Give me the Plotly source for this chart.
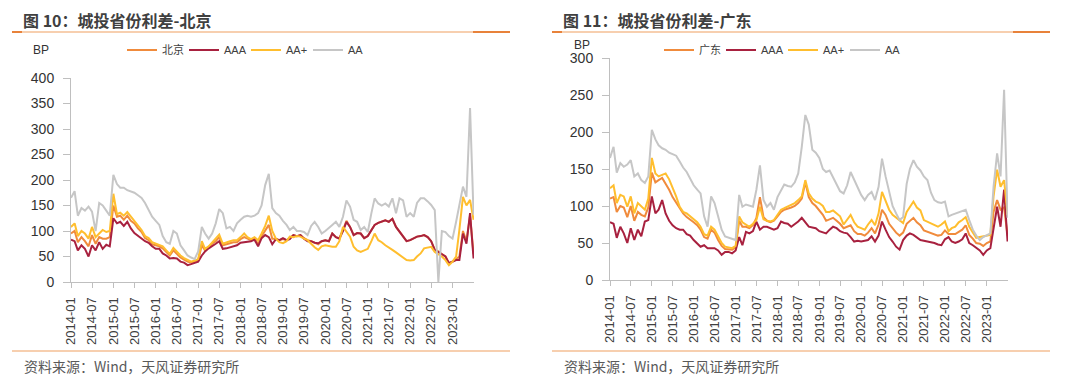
import pandas as pd
import plotly.graph_objects as go

# ---------------- data (monthly, 2014-01 .. 2023-07) ----------------
dates = pd.date_range("2014-01-01", periods=115, freq="MS")
tick_dates = pd.date_range("2014-01-01", "2023-01-01", freq="6MS")

bj_city = [95, 100, 78, 88, 80, 70, 92, 75, 88, 85,
           85, 88, 150, 128, 130, 122, 130, 120, 115, 105,
           98, 86, 82, 74, 72, 70, 66, 58, 52, 62,
           56, 48, 44, 40, 38, 40, 43, 72, 62, 68,
           75, 80, 88, 72, 74, 76, 78, 78, 84, 88,
           85, 82, 86, 74, 90, 102, 112, 85, 85, 82,
           84, 82, 86, 92, 90, 92, 86, 82, 80, 77,
           74, 80, 82, 80, 95, 88, 86, 102, 120, 108,
           92, 96, 95, 86, 90, 102, 112, 116, 118, 121,
           118, 124, 108, 98, 89, 80, 82, 85, 89, 90,
           92, 88, 80, 63, 60, 55, 50, 37, 40, 45,
           50, 100, 80, 130, 55]
bj_aaa = [83, 80, 62, 72, 65, 50, 72, 62, 78, 65,
          73, 70, 125, 115, 118, 110, 118, 105, 96, 90,
          85, 80, 77, 70, 65, 65, 56, 52, 46, 47,
          46, 40, 38, 33, 35, 37, 40, 52, 60, 66,
          70, 75, 80, 65, 66, 68, 70, 72, 77, 78,
          80, 80, 83, 70, 86, 92, 88, 74, 84, 82,
          86, 82, 84, 92, 90, 92, 85, 80, 80, 77,
          76, 80, 82, 80, 95, 88, 85, 100, 118, 108,
          92, 96, 95, 86, 90, 102, 112, 116, 118, 121,
          118, 124, 108, 98, 89, 80, 82, 85, 89, 90,
          92, 88, 80, 63, 59, 55, 50, 37, 40, 43,
          43, 95, 75, 135, 46]
bj_aap = [108, 115, 90, 100, 95, 85, 108, 88, 95, 102,
          98, 100, 173, 133, 136, 130, 137, 128, 120, 110,
          102, 90, 86, 78, 75, 72, 70, 62, 55, 67,
          60, 52, 47, 43, 40, 42, 45, 80, 65, 70,
          78, 85, 93, 75, 78, 80, 82, 82, 88, 95,
          88, 84, 88, 82, 95, 110, 130, 100, 85, 78,
          76, 80, 89, 88, 90, 89, 85, 82, 75, 68,
          63, 70, 72, 70, 69, 69, 80, 108, 98, 89,
          69, 62, 59, 62, 65, 80, 95, 82, 78, 72,
          68, 63, 58, 53, 48, 43, 42, 43, 50, 56,
          66, 68, 69, 59, 55, 50, 43, 33, 40, 50,
          102, 167, 150, 161, 122]
bj_aa = [165, 178, 130, 145, 140, 148, 138, 100, 155, 150,
         140, 130, 210, 192, 185, 185, 180, 178, 175, 170,
         165, 155, 140, 128, 120, 112, 90, 78, 75, 100,
         95, 72, 62, 52, 48, 45, 60, 108, 95, 85,
         95, 115, 143, 135, 105, 108, 100, 115, 122, 128,
         130, 128, 130, 135, 150, 190, 212, 145, 135, 130,
         120, 112, 102, 108, 100, 100, 98, 92, 110, 118,
         108, 95, 100, 107, 112, 118, 108, 128, 160, 148,
         122, 118, 102, 108, 98, 135, 164, 154, 150, 154,
         148, 164, 135, 164, 160, 128, 135, 128, 155, 164,
         164, 158, 151, 141, 0, 100, 98, 90, 85, 118,
         154, 187, 167, 341, 132]

gd_city = [110, 112, 92, 100, 98, 85, 100, 80, 92, 88,
           86, 98, 145, 132, 135, 138, 130, 122, 112, 104,
           96, 90, 85, 82, 78, 74, 68, 58, 56, 68,
           64, 54, 46, 42, 42, 41, 44, 80, 72, 72,
           70, 74, 84, 112, 85, 80, 78, 80, 86, 92,
           95, 96, 98, 100, 104, 110, 132, 112, 104, 100,
           94, 88, 80, 82, 84, 80, 76, 70, 72, 74,
           66, 62, 62, 60, 64, 70, 63, 75, 95, 88,
           76, 70, 64, 60, 64, 76, 80, 84, 78, 74,
           67, 65, 64, 62, 60, 61, 67, 62, 62, 62,
           65, 68, 74, 61, 56, 50, 49, 46, 50, 52,
           92, 108, 95, 98, 60]
gd_aaa = [78, 76, 57, 72, 63, 50, 70, 54, 68, 59,
          79, 81, 113, 90, 95, 108, 90, 80, 74, 70,
          68, 68, 62, 60, 54, 50, 45, 47, 43, 43,
          43, 40, 34, 38, 38, 36, 40, 58, 47, 65,
          63, 66, 79, 68, 72, 72, 70, 68, 70, 79,
          77, 76, 72, 75, 79, 84, 78, 72, 71, 70,
          66, 64, 63, 68, 72, 70, 66, 64, 63, 58,
          52, 53, 52, 53, 54, 59, 52, 60, 79, 68,
          58, 52, 45, 41, 54, 60, 63, 61, 58, 54,
          53, 52, 52, 50, 48, 47, 55, 58, 52, 50,
          52, 55, 63, 50, 47, 43, 40, 34, 40, 43,
          72, 99, 72, 122, 52]
gd_aap = [124, 128, 104, 115, 113, 99, 113, 90, 104, 99,
          95, 110, 165, 144, 140, 142, 144, 136, 125, 113,
          99, 92, 90, 86, 83, 78, 72, 62, 60, 72,
          68, 58, 50, 45, 44, 43, 46, 86, 78, 75,
          72, 76, 81, 99, 82, 80, 79, 81, 88, 95,
          97, 99, 102, 104, 108, 113, 135, 117, 110, 106,
          104, 100, 92, 92, 94, 90, 86, 75, 82, 88,
          78, 72, 70, 68, 75, 81, 74, 90, 119, 108,
          95, 88, 84, 80, 77, 92, 99, 106, 98, 94,
          81, 79, 77, 74, 72, 75, 79, 66, 70, 72,
          78, 81, 85, 72, 65, 57, 58, 59, 60, 61,
          113, 149, 126, 135, 88]
gd_aa = [165, 180, 145, 158, 153, 156, 162, 140, 144, 135,
         131, 140, 203, 190, 182, 178, 176, 172, 170, 168,
         160, 152, 146, 138, 128, 122, 117, 86, 72, 113,
         104, 86, 68, 59, 57, 55, 54, 115, 99, 102,
         100, 99, 122, 155, 108, 99, 104, 95, 112, 122,
         129, 127, 126, 132, 144, 180, 223, 210, 176, 172,
         165, 150, 146, 148, 138, 128, 120, 117, 128, 146,
         135, 126, 115, 108, 115, 119, 108, 126, 164, 140,
         118, 100, 90, 81, 85, 130, 150, 162, 153, 148,
         140, 135, 118, 108, 105, 104, 106, 86, 88, 90,
         92, 93, 95, 81, 68, 60, 54, 58, 60, 63,
         126, 171, 140, 257, 84]

left_names = ["北京", "AAA", "AA+", "AA"]
right_names = ["广东", "AAA", "AA+", "AA"]
colors = ["#F08B3C", "#A8213F", "#FFBE2E", "#C6C6C6"]

W, H = 1080, 381
OFF = 8  # the page body margin shifts the figure by 8px
LATIN = "Liberation Sans, Arial, Noto Sans CJK SC, sans-serif"
CJK = "Noto Sans CJK SC, sans-serif"

fig = go.Figure()
for name, vals, col in zip(left_names, [bj_city, bj_aaa, bj_aap, bj_aa], colors):
    fig.add_trace(go.Scatter(x=dates, y=vals, name=name, mode="lines",
                             line=dict(color=col, width=2),
                             xaxis="x", yaxis="y", legend="legend"))
for name, vals, col in zip(right_names, [gd_city, gd_aaa, gd_aap, gd_aa], colors):
    fig.add_trace(go.Scatter(x=dates, y=vals, name=name, mode="lines",
                             line=dict(color=col, width=2),
                             xaxis="x2", yaxis="y2", legend="legend2"))


def px_x(x):
    return (x - OFF) / W


def px_y(y):
    return 1 - (y - OFF) / H


def xax(domain, anchor):
    return dict(domain=domain, anchor=anchor, type="date", automargin=False,
                range=["2014-01-01", "2023-07-05"],
                tickmode="array", tickvals=list(tick_dates),
                ticktext=[d.strftime("%Y-%m") for d in tick_dates],
                tickangle=-90, ticks="outside", ticklen=5, tickcolor="#BFBFBF",
                ticklabelstandoff=4,
                showline=True, linecolor="#BFBFBF", linewidth=1,
                showgrid=False, zeroline=False,
                tickfont=dict(family=LATIN, size=13, color="#404040"))


def yax(domain, anchor, top):
    return dict(domain=domain, anchor=anchor, range=[0, top], dtick=50,
                automargin=False,
                ticks="outside", ticklen=7, tickcolor="#BFBFBF",
                ticklabelstandoff=6,
                showline=True, linecolor="#BFBFBF", linewidth=1,
                showgrid=False, zeroline=False,
                tickfont=dict(family=LATIN, size=14, color="#333333"))


legend_common = dict(orientation="h", xanchor="left", yanchor="middle",
                     bgcolor="rgba(0,0,0,0)", borderwidth=0,
                     font=dict(family=LATIN, size=11, color="#404040"),
                     itemwidth=30, tracegroupgap=0,
                     entrywidth=17, entrywidthmode="pixels")

fig.update_layout(
    template="none",
    width=W, height=H, margin=dict(l=0, r=0, t=0, b=0, pad=0, autoexpand=False),
    paper_bgcolor="white", plot_bgcolor="white",
    showlegend=True,
    xaxis=xax([px_x(71), px_x(474)], "y"),
    yaxis=yax([px_y(282), px_y(78)], "x", 400),
    xaxis2=xax([px_x(610), px_x(1008)], "y2"),
    yaxis2=yax([px_y(280), px_y(58)], "x2", 300),
    legend=dict(x=px_x(122), y=px_y(50), **legend_common),
    legend2=dict(x=px_x(659), y=px_y(50), **legend_common),
)

annotations = []
shapes = []
for x0, title in [(22, "图 10：城投省份利差-北京"), (562, "图 11：城投省份利差-广东")]:
    annotations.append(dict(xref="paper", yref="paper", x=px_x(x0), y=px_y(20),
                            xanchor="left", yanchor="middle", showarrow=False,
                            borderpad=0,
                            text="<b>" + title + "</b>",
                            font=dict(family=CJK, size=16, color="#404040")))
    annotations.append(dict(xref="paper", yref="paper", x=px_x(x0), y=px_y(366),
                            xanchor="left", yanchor="middle", showarrow=False,
                            text="资料来源：Wind，天风证券研究所",
                            font=dict(family=CJK, size=14, color="#595959")))
for x0, yb in [(31, 50), (572, 45)]:
    annotations.append(dict(xref="paper", yref="paper", x=px_x(x0), y=px_y(yb),
                            xanchor="left", yanchor="middle", showarrow=False,
                            text="BP", font=dict(family=LATIN, size=12, color="#333333")))

for xl, xr in [(12, 510), (552, 1050)]:
    for yline in (32, 351):
        shapes.append(dict(type="line", xref="paper", yref="paper",
                           x0=px_x(xl), x1=px_x(xr), y0=px_y(yline), y1=px_y(yline),
                           line=dict(color="#F0A060", width=1.2)))
    shapes.append(dict(type="line", xref="paper", yref="paper",
                       x0=px_x(xl), x1=px_x(xl + 10), y0=px_y(32), y1=px_y(32),
                       line=dict(color="#E8823A", width=2)))
    shapes.append(dict(type="line", xref="paper", yref="paper",
                       x0=px_x(xr - 37), x1=px_x(xr), y0=px_y(32), y1=px_y(32),
                       line=dict(color="#E8823A", width=2)))

fig.update_layout(annotations=annotations, shapes=shapes)
fig.write_html("out.html")
